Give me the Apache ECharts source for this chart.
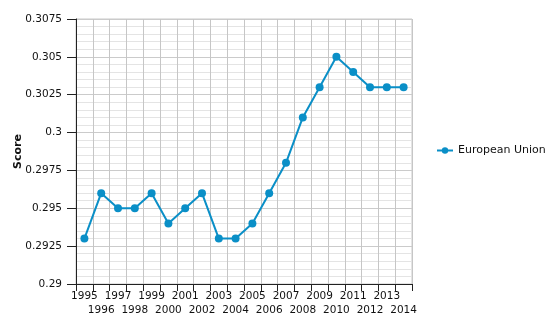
<!DOCTYPE html>
<html><head><meta charset="utf-8">
<script src="https://cdn.jsdelivr.net/npm/echarts@6/dist/echarts.min.js"></script>
<style>html,body{margin:0;padding:0;background:#fff}#c{width:550px;height:328px}</style>
</head><body><div id="c"></div>
<script>
const years = ['1995','1996','1997','1998','1999','2000','2001','2002','2003','2004','2005','2006','2007','2008','2009','2010','2011','2012','2013','2014'];
const euScores = [0.293,0.296,0.295,0.295,0.296,0.294,0.295,0.296,0.293,0.293,0.294,0.296,0.298,0.301,0.303,0.305,0.304,0.303,0.303,0.303];
const seriesName = 'European Union';
const yAxisName = 'Score';

const font = 'DejaVu Sans, Verdana, sans-serif';
const chart = echarts.init(document.getElementById('c'), null, {renderer:'canvas'});
chart.setOption({
  animation:false,
  backgroundColor:'#fff',
  grid:{left:76,right:138,top:19,bottom:44,show:true,borderColor:'#c8c8c8',borderWidth:1,
    containLabel:false, outerBoundsMode:'none'},
  legend:{
    data:[seriesName], orient:'vertical', left:436, top:145, padding:0,
    itemWidth:16, itemHeight:8, itemGap:10,
    textStyle:{fontFamily:font,fontSize:11,color:'#111'}
  },
  xAxis:{
    type:'category', data:years, boundaryGap:true,
    axisLine:{lineStyle:{color:'#222',width:1}},
    axisTick:{show:true,length:7,lineStyle:{color:'#222'}},
    axisLabel:{interval:0,fontFamily:font,fontSize:10.5,color:'#111',lineHeight:14,margin:5,
      formatter:(v,i)=> i%2 ? '\n'+v : v},
    splitLine:{show:true,interval:0,lineStyle:{color:'#c6c6c6',width:1}}
  },
  yAxis:{
    type:'value', min:0.29, max:0.3075, interval:0.0025,
    name:yAxisName, nameLocation:'middle', nameGap:52, nameRotate:90, nameMoveOverlap:false,
    nameTextStyle:{fontFamily:font,fontSize:11,fontWeight:'bold',color:'#111'},
    axisLine:{show:true,lineStyle:{color:'#222',width:1}},
    axisTick:{show:true,length:9,lineStyle:{color:'#222'}},
    axisLabel:{fontFamily:font,fontSize:10.5,color:'#111',margin:14,
      formatter:v=> String(+v.toFixed(4))},
    splitLine:{show:true,lineStyle:{color:'#cbcbcb',width:1}},
    minorTick:{show:false,splitNumber:5},
    minorSplitLine:{show:true,lineStyle:{color:'#e4e4e4',width:1}}
  },
  series:[{
    name:seriesName, type:'line', data:euScores,
    symbol:'circle', symbolSize:8,
    lineStyle:{color:'#0a8fc7',width:2},
    itemStyle:{color:'#0a8fc7'}
  }]
});
</script></body></html>
